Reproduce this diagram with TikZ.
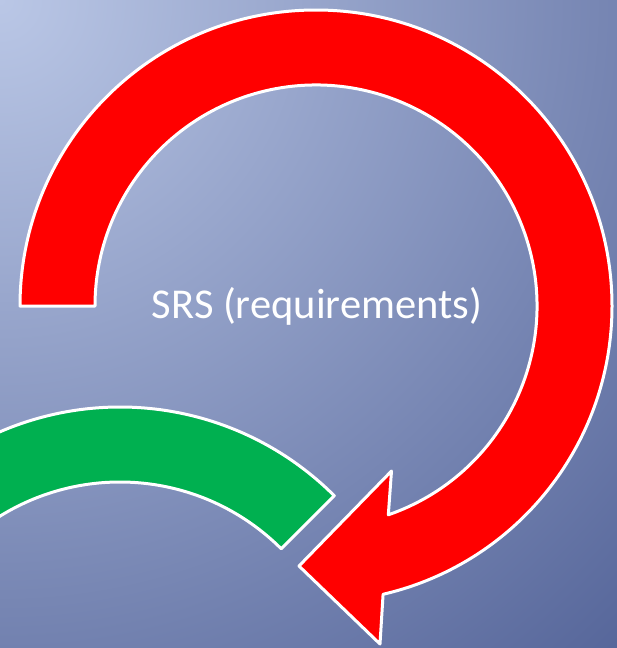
\documentclass[tikz,border=0pt]{standalone}
\usepackage{fontspec}
\setmainfont{Carlito}
\definecolor{bglight}{RGB}{186,199,230}
\definecolor{bgdark}{RGB}{86,102,154}
\definecolor{arrowred}{RGB}{255,0,0}
\definecolor{arcgreen}{RGB}{0,176,80}

\begin{document}
\begin{tikzpicture}[x=1pt,y=1pt,
slidebg/.style={
	% a shading that is light at the top left corner...
	inner color=bglight,
	% and dark towards the bottom right
	outer color=bgdark},
bandarrow/.style={
	% The border:
	draw=white, line width=3pt, line join=round,
	% The filling:
	fill=arrowred},
bandarc/.style={
	draw=white, line width=3pt, line join=round,
	fill=arcgreen},
srstext/.style={
	% Font
	text=white, font=\fontsize{42.5}{50}\selectfont}]

\useasboundingbox (0,0) rectangle (617,-648);
\clip (0,0) rectangle (617,-648);
\shade[slidebg] (0,0) circle (900pt);

% centres of the two bands
\coordinate (rc) at (316,-306);
\coordinate (gc) at (120,-710);

% head of the red arrow
\coordinate (lowbarb) at (380,-644);
\coordinate (tip) at (299,-566);
\coordinate (upbarb) at (391.5,-471);

% green band, its left end runs off the picture
\draw[bandarc] ([shift={(45:303pt)}]gc) arc[start angle=45,end angle=150,radius=303pt]
	-- ([shift={(150:228pt)}]gc) arc[start angle=150,end angle=45,radius=228pt] -- cycle;

% red band with its head
\draw[bandarrow] ([shift={(180:296pt)}]rc) arc[start angle=180,end angle=-76.9,radius=296pt]
	-- (lowbarb) -- (tip) -- (upbarb) -- ([shift={(-70.9:221pt)}]rc)
	arc[start angle=-70.9,end angle=180,radius=221pt] -- cycle;

\node[srstext,anchor=base] (srs) at (317,-318) {SRS (requirements)};

\end{tikzpicture}
\end{document}
